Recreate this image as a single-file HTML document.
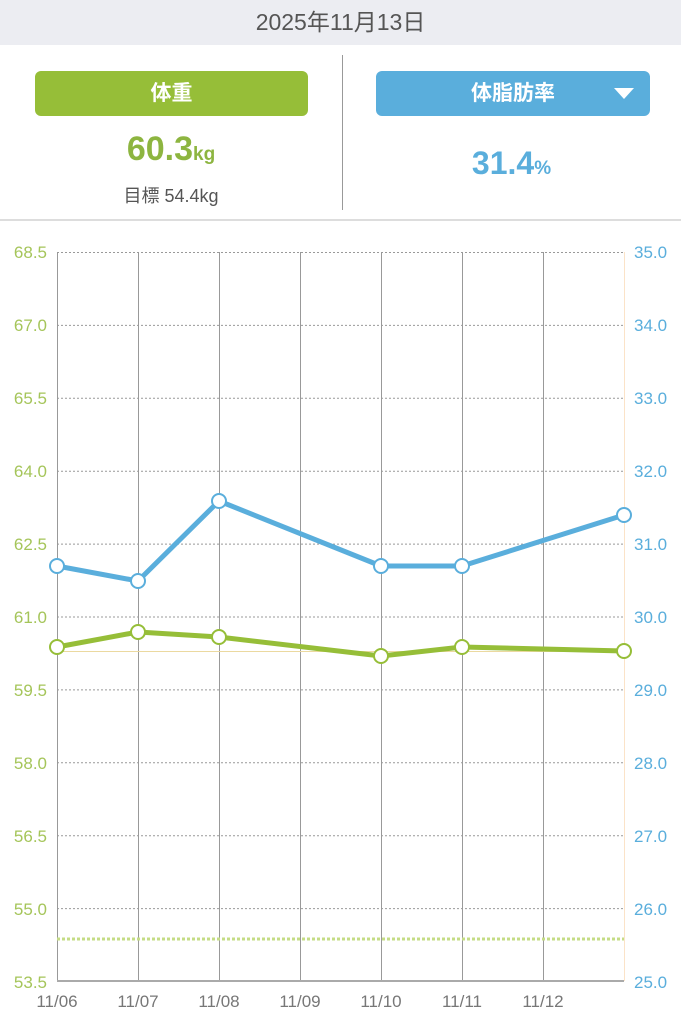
<!DOCTYPE html><html><head><meta charset="utf-8"><style>
body{margin:0;width:681px;height:1024px;background:#fff;font-family:"Liberation Sans","Noto Sans CJK JP",sans-serif;position:relative;overflow:hidden}
.a{position:absolute}
</style></head><body>
<div class="a" style="left:0;top:0;width:681px;height:45px;background:#ECEDF2;text-align:center;line-height:45px;font-size:23px;color:#555">2025年11月13日</div>
<div class="a" style="left:35px;top:71px;width:273px;height:45px;background:#96BE38;border-radius:6px;color:#fff;font-size:21px;text-align:center;line-height:45px;font-weight:bold">体重</div>
<div class="a" style="left:376px;top:71px;width:274px;height:45px;background:#5AAEDC;border-radius:6px;color:#fff;font-size:21px;text-align:center;line-height:45px;font-weight:bold">体脂肪率</div>
<div class="a" style="left:614px;top:88px;width:0;height:0;border-left:10px solid transparent;border-right:10px solid transparent;border-top:11px solid #fff"></div>
<div class="a" style="left:0;top:130px;width:342px;text-align:center;color:#8DB540;font-size:34px;font-weight:bold">60.3<span style="font-size:19px">kg</span></div>
<div class="a" style="left:0;top:182px;width:342px;text-align:center;color:#555;font-size:18px">目標 54.4kg</div>
<div class="a" style="left:342px;top:145px;width:339px;text-align:center;color:#5AAEDC;font-size:32px;font-weight:bold">31.4<span style="font-size:19px">%</span></div>
<div class="a" style="left:342px;top:55px;width:1px;height:155px;background:#999"></div>
<div class="a" style="left:0;top:219px;width:681px;height:2px;background:#ddd"></div>
<svg class="a" style="left:0;top:0" width="681" height="1024" font-family="Liberation Sans,sans-serif" font-size="17">
<g stroke="#999" stroke-dasharray="2,2" stroke-width="1">
<line x1="57" x2="624" y1="252.5" y2="252.5"/><line x1="57" x2="624" y1="325.4" y2="325.4"/><line x1="57" x2="624" y1="398.3" y2="398.3"/><line x1="57" x2="624" y1="471.2" y2="471.2"/><line x1="57" x2="624" y1="544.1" y2="544.1"/><line x1="57" x2="624" y1="617" y2="617"/><line x1="57" x2="624" y1="689.9" y2="689.9"/><line x1="57" x2="624" y1="762.8" y2="762.8"/><line x1="57" x2="624" y1="835.7" y2="835.7"/><line x1="57" x2="624" y1="908.6" y2="908.6"/>
</g>
<g stroke="#999" stroke-width="1">
<line x1="57.5" x2="57.5" y1="252" y2="981"/><line x1="138.5" x2="138.5" y1="252" y2="981"/><line x1="219.5" x2="219.5" y1="252" y2="981"/><line x1="300.5" x2="300.5" y1="252" y2="981"/><line x1="381.5" x2="381.5" y1="252" y2="981"/><line x1="462.5" x2="462.5" y1="252" y2="981"/><line x1="543.5" x2="543.5" y1="252" y2="981"/>
</g>
<line x1="624.5" x2="624.5" y1="252" y2="981" stroke="#FBE3C8"/>
<line x1="57" x2="624" y1="981" y2="981" stroke="#aaa" stroke-width="2"/>
<line x1="57" x2="624" y1="939" y2="939" stroke="#C5DC86" stroke-width="3" stroke-dasharray="3,2"/>
<line x1="57" x2="624" y1="651.5" y2="651.5" stroke="#EBD9A0" stroke-width="1"/>
<polyline points="57,566 138,581 219,501 381,566 462,566 624,515" fill="none" stroke="#5AAEDC" stroke-width="5" stroke-linejoin="round"/>
<polyline points="57,647 138,632 219,637 381,656 462,647 624,651" fill="none" stroke="#96BE38" stroke-width="5" stroke-linejoin="round"/>
<g fill="#fff" stroke="#5AAEDC" stroke-width="2"><circle cx="57" cy="566" r="7"/><circle cx="138" cy="581" r="7"/><circle cx="219" cy="501" r="7"/><circle cx="381" cy="566" r="7"/><circle cx="462" cy="566" r="7"/><circle cx="624" cy="515" r="7"/></g>
<g fill="#fff" stroke="#96BE38" stroke-width="2"><circle cx="57" cy="647" r="7"/><circle cx="138" cy="632" r="7"/><circle cx="219" cy="637" r="7"/><circle cx="381" cy="656" r="7"/><circle cx="462" cy="647" r="7"/><circle cx="624" cy="651" r="7"/></g>
<g fill="#A5C55A" text-anchor="end">
<text x="47" y="258">68.5</text><text x="47" y="331">67.0</text><text x="47" y="404">65.5</text><text x="47" y="477">64.0</text><text x="47" y="550">62.5</text><text x="47" y="623">61.0</text><text x="47" y="696">59.5</text><text x="47" y="769">58.0</text><text x="47" y="842">56.5</text><text x="47" y="915">55.0</text><text x="47" y="988">53.5</text>
</g>
<g fill="#5AAEDC" text-anchor="start">
<text x="634" y="258">35.0</text><text x="634" y="331">34.0</text><text x="634" y="404">33.0</text><text x="634" y="477">32.0</text><text x="634" y="550">31.0</text><text x="634" y="623">30.0</text><text x="634" y="696">29.0</text><text x="634" y="769">28.0</text><text x="634" y="842">27.0</text><text x="634" y="915">26.0</text><text x="634" y="988">25.0</text>
</g>
<g fill="#777" text-anchor="middle" font-size="17">
<text x="57" y="1007">11/06</text><text x="138" y="1007">11/07</text><text x="219" y="1007">11/08</text><text x="300" y="1007">11/09</text><text x="381" y="1007">11/10</text><text x="462" y="1007">11/11</text><text x="543" y="1007">11/12</text>
</g>
</svg>
</body></html>
